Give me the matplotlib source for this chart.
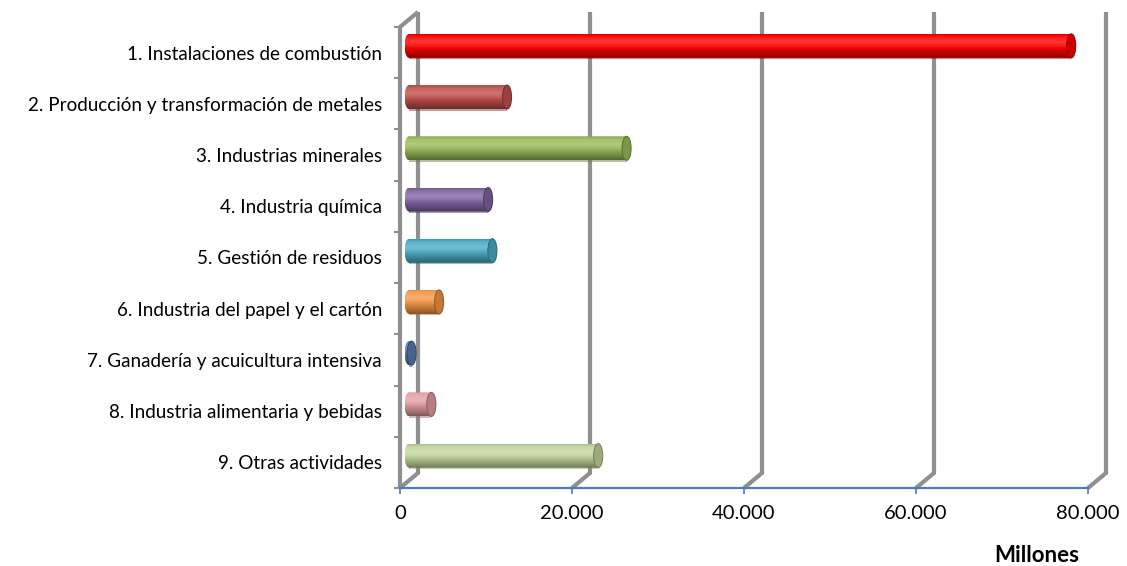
import numpy as np
import matplotlib
matplotlib.use("Agg")
import matplotlib.pyplot as plt
from matplotlib.patches import Ellipse, Rectangle, PathPatch
from matplotlib.path import Path
from matplotlib.colors import to_rgb

categories = [
    "1. Instalaciones de combustión",
    "2. Producción y transformación de metales",
    "3. Industrias minerales",
    "4. Industria química",
    "5. Gestión de residuos",
    "6. Industria del papel y el cartón",
    "7. Ganadería y acuicultura intensiva",
    "8. Industria alimentaria y bebidas",
    "9. Otras actividades",
]
values = [77000, 11400, 25300, 9200, 9700, 3500, 300, 2600, 22000]
colors = ["#FF0000", "#C0504D", "#9BBB59", "#8064A2", "#4BACC6",
          "#F79646", "#5B7CB0", "#E59EA3", "#C3D69B"]
xticks = [0, 20000, 40000, 60000, 80000]
xticklabels = ["0", "20.000", "40.000", "60.000", "80.000"]
xlabel = "Millones"

plt.rcParams["font.family"] = ["Lato", "DejaVu Sans"]

W, H = 1127, 566
fig = plt.figure(figsize=(W / 100, H / 100), dpi=100)
ax = fig.add_axes([400 / W, 1 - 488 / H, 688 / W, (488 - 27) / H])
XMAX, NCAT = 80000, len(categories)

# size of one pixel in data units
px_x = XMAX / 688
px_y = NCAT / 461
DX = 18 * px_x      # depth offset of the back wall
DY = 15 * px_y

GRID = "#8F8F8F"
BLUE = "#4A7EBB"

# back wall gridlines with their floor diagonals
for t in xticks:
    ax.plot([t, t + DX, t + DX], [NCAT, NCAT - DY, -DY], color=GRID, lw=3,
            clip_on=False, zorder=1, solid_joinstyle="miter", solid_capstyle="butt")
# left wall
ax.plot([0, 0, DX], [NCAT, 0, -DY], color=GRID, lw=3, clip_on=False, zorder=1,
        solid_joinstyle="miter", solid_capstyle="butt")


def shade(rgb, n=80):
    t = np.linspace(0, 1, n)
    light = np.clip(1 - np.abs(t - 0.32) / 0.32, 0, 1) * 0.22
    dark = np.clip((t - 0.4) / 0.6, 0, 1) ** 1.4 * 0.45
    dark += np.clip(1 - t / 0.12, 0, 1) * 0.12
    c = np.array(rgb)[None, :] * (1 - dark[:, None])
    c = c + (1 - c) * light[:, None]
    return c[:, None, :]


def darker(rgb, k):
    return tuple(np.array(rgb) * k)


h = 24 * px_y        # cylinder diameter
ew = 9 * px_x        # width of the elliptical end faces
x0 = DX / 2          # cylinders sit halfway into the depth
for i, (v, col) in enumerate(zip(values, colors)):
    rgb = to_rgb(col)
    yc = i + 0.5 - 0.45 * DY
    # soft shadow under the cylinder
    ax.add_patch(Rectangle((x0, yc + h / 2 - 2 * px_y), v, 3.5 * px_y,
                           facecolor=darker(rgb, 0.7), alpha=0.5, lw=0, zorder=2))
    im = ax.imshow(shade(rgb), extent=[x0 - ew / 2, x0 + v, yc + h / 2, yc - h / 2],
                   aspect="auto", interpolation="bilinear", zorder=3)
    rect = Rectangle((x0, yc - h / 2), v, h)
    ell = Ellipse((x0, yc), ew, h)
    p = Path.make_compound_path(rect.get_path().transformed(rect.get_patch_transform()),
                                ell.get_path().transformed(ell.get_patch_transform()))
    im.set_clip_path(PathPatch(p, transform=ax.transData))
    ax.add_patch(Ellipse((x0 + v, yc), ew, h, facecolor=darker(rgb, 0.8),
                         edgecolor=darker(rgb, 0.62), lw=0.8, zorder=4))

ax.set_xlim(0, XMAX)
ax.set_ylim(NCAT, 0)

for s in ("top", "right", "left"):
    ax.spines[s].set_visible(False)
ax.spines["bottom"].set_color(BLUE)
ax.spines["bottom"].set_linewidth(1.6)
ax.spines["bottom"].set_zorder(6)

ax.set_xticks(xticks, xticklabels)
ax.tick_params(axis="x", direction="out", length=4.5, width=1.2, color=BLUE,
               labelsize=14.5, pad=8)
ax.set_yticks(np.arange(NCAT) + 0.5, categories)
ax.set_yticks(np.arange(NCAT + 1), minor=True)
ax.tick_params(axis="y", which="major", length=0, labelsize=13.6, pad=13)
ax.tick_params(axis="y", which="minor", direction="out", length=4, width=1.5, color=GRID)

fig.text(1037 / W, 1 - 555 / H, xlabel, ha="center", va="center",
         fontweight="bold", fontsize=16)

fig.savefig("out.png", dpi=100)
